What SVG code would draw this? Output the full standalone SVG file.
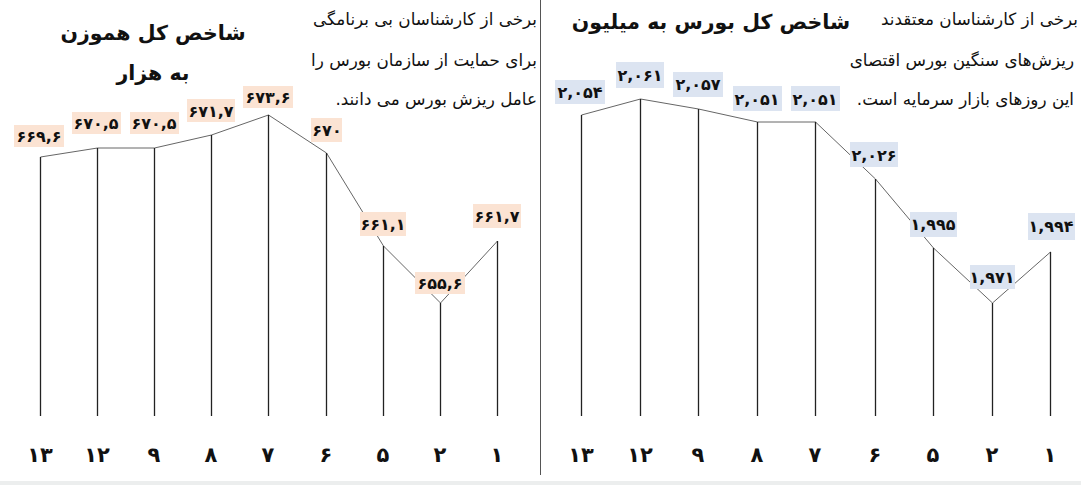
<svg xmlns="http://www.w3.org/2000/svg" width="1081" height="485" viewBox="0 0 1081 485">
<style>
.bar{stroke:#222;stroke-width:1.3;fill:none}
.trend{stroke:#666;stroke-width:1;fill:none}
.lbl{font-family:"DejaVu Sans",sans-serif;font-weight:bold;font-size:16px;fill:#111;text-anchor:middle}
.ax{font-family:"DejaVu Sans",sans-serif;font-weight:bold;font-size:21px;fill:#111;text-anchor:middle}
.title{font-family:"DejaVu Sans",sans-serif;font-weight:bold;font-size:20.5px;fill:#111;text-anchor:middle}
.para{font-family:"DejaVu Sans",sans-serif;font-size:16.8px;fill:#111}
.bo{fill:#fbe3d3}
.bb{fill:#dce4f1}
</style>
<rect width="1081" height="485" fill="#fff"/>
<rect x="0" y="481" width="1081" height="4" fill="#eceeee"/>
<line x1="540.5" y1="0" x2="540.5" y2="475" stroke="#555" stroke-width="1"/>

<g id="left-chart">
<g id="left-connectors">
<polyline class="trend" points="40.5,157 97.5,148 154.5,148 211.5,135 268.5,115 326.5,153 383.5,246 440.5,303 497.5,241"/>
</g>
<g id="left-bars">
<line class="bar" x1="40.5" y1="157" x2="40.5" y2="416"/>
<line class="bar" x1="97.5" y1="148" x2="97.5" y2="416"/>
<line class="bar" x1="154.5" y1="148" x2="154.5" y2="416"/>
<line class="bar" x1="211.5" y1="135" x2="211.5" y2="416"/>
<line class="bar" x1="268.5" y1="115" x2="268.5" y2="416"/>
<line class="bar" x1="326.5" y1="153" x2="326.5" y2="416"/>
<line class="bar" x1="383.5" y1="246" x2="383.5" y2="416"/>
<line class="bar" x1="440.5" y1="303" x2="440.5" y2="416"/>
<line class="bar" x1="497.5" y1="241" x2="497.5" y2="416"/>
</g>
<g id="L1"><rect class="bo" x="14" y="125" width="50" height="22"/><text class="lbl" x="39" y="142">۶۶۹,۶</text></g>
<g id="L2"><rect class="bo" x="72" y="112" width="49" height="22"/><text class="lbl" x="96" y="129">۶۷۰,۵</text></g>
<g id="L3"><rect class="bo" x="130" y="112" width="49" height="22"/><text class="lbl" x="154" y="129">۶۷۰,۵</text></g>
<g id="L4"><rect class="bo" x="187" y="99" width="48" height="23"/><text class="lbl" x="211" y="117">۶۷۱,۷</text></g>
<g id="L5"><rect class="bo" x="243" y="86" width="50" height="22"/><text class="lbl" x="268" y="103">۶۷۳,۶</text></g>
<g id="L6"><rect class="bo" x="311" y="118" width="31" height="24"/><text class="lbl" x="327" y="136">۶۷۰</text></g>
<g id="L7"><rect class="bo" x="360" y="212" width="46" height="24"/><text class="lbl" x="383" y="230">۶۶۱,۱</text></g>
<g id="L8"><rect class="bo" x="415" y="272" width="50" height="22"/><text class="lbl" x="440" y="289">۶۵۵,۶</text></g>
<g id="L9"><rect class="bo" x="473" y="204" width="48" height="24"/><text class="lbl" x="497" y="222">۶۶۱,۷</text></g>
<g id="left-axis">
<text class="ax" x="40" y="462">۱۳</text>
<text class="ax" x="97" y="462">۱۲</text>
<text class="ax" x="154" y="462">۹</text>
<text class="ax" x="211" y="462">۸</text>
<text class="ax" x="268" y="462">۷</text>
<text class="ax" x="326" y="462">۶</text>
<text class="ax" x="383" y="462">۵</text>
<text class="ax" x="440" y="462">۲</text>
<text class="ax" x="497" y="462">۱</text>
</g>
<g id="left-title">
<text class="title" x="153" y="40">شاخص کل هموزن</text>
<text class="title" x="153" y="80">به هزار</text>
</g>
<g id="left-note">
<text class="para" x="537" y="25" direction="rtl" text-anchor="start">برخی از کارشناسان بی برنامگی</text>
<text class="para" x="537" y="66" direction="rtl" text-anchor="start">برای حمایت از سازمان بورس را</text>
<text class="para" x="537" y="105" direction="rtl" text-anchor="start">عامل ریزش بورس می دانند.</text>
</g>
</g>

<g id="right-chart">
<g id="right-connectors">
<polyline class="trend" points="581.5,115 640.5,99 698.5,109 757.5,122 815.5,122 875.5,179 933.5,248 992.5,303 1050.5,252"/>
</g>
<g id="right-bars">
<line class="bar" x1="581.5" y1="115" x2="581.5" y2="416"/>
<line class="bar" x1="640.5" y1="99" x2="640.5" y2="416"/>
<line class="bar" x1="698.5" y1="109" x2="698.5" y2="416"/>
<line class="bar" x1="757.5" y1="122" x2="757.5" y2="416"/>
<line class="bar" x1="815.5" y1="122" x2="815.5" y2="416"/>
<line class="bar" x1="875.5" y1="179" x2="875.5" y2="416"/>
<line class="bar" x1="933.5" y1="248" x2="933.5" y2="416"/>
<line class="bar" x1="992.5" y1="303" x2="992.5" y2="416"/>
<line class="bar" x1="1050.5" y1="252" x2="1050.5" y2="416"/>
</g>
<g id="R1"><rect class="bb" x="555" y="80" width="50" height="24"/><text class="lbl" x="580" y="98">۲,۰۵۴</text></g>
<g id="R2"><rect class="bb" x="616" y="62" width="48" height="26"/><text class="lbl" x="640" y="81">۲,۰۶۱</text></g>
<g id="R3"><rect class="bb" x="673" y="72" width="50" height="25"/><text class="lbl" x="698" y="90">۲,۰۵۷</text></g>
<g id="R4"><rect class="bb" x="733" y="86" width="49" height="25"/><text class="lbl" x="757" y="105">۲,۰۵۱</text></g>
<g id="R5"><rect class="bb" x="791" y="86" width="49" height="25"/><text class="lbl" x="815" y="105">۲,۰۵۱</text></g>
<g id="R6"><rect class="bb" x="850" y="142" width="48" height="25"/><text class="lbl" x="874" y="161">۲,۰۲۶</text></g>
<g id="R7"><rect class="bb" x="910" y="212" width="47" height="25"/><text class="lbl" x="933" y="230">۱,۹۹۵</text></g>
<g id="R8"><rect class="bb" x="970" y="265" width="45" height="24"/><text class="lbl" x="992" y="283">۱,۹۷۱</text></g>
<g id="R9"><rect class="bb" x="1028" y="213" width="47" height="27"/><text class="lbl" x="1051" y="232">۱,۹۹۴</text></g>
<g id="right-axis">
<text class="ax" x="581" y="462">۱۳</text>
<text class="ax" x="640" y="462">۱۲</text>
<text class="ax" x="698" y="462">۹</text>
<text class="ax" x="757" y="462">۸</text>
<text class="ax" x="815" y="462">۷</text>
<text class="ax" x="875" y="462">۶</text>
<text class="ax" x="933" y="462">۵</text>
<text class="ax" x="992" y="462">۲</text>
<text class="ax" x="1050" y="462">۱</text>
</g>
<g id="right-title">
<text class="title" x="711" y="29">شاخص کل بورس به میلیون</text>
</g>
<g id="right-note">
<text class="para" x="1078" y="25" direction="rtl" text-anchor="start">برخی از کارشناسان معتقدند</text>
<text class="para" x="1074" y="66" direction="rtl" text-anchor="start">ریزش‌های سنگین بورس اقتصای</text>
<text class="para" x="1074" y="105" direction="rtl" text-anchor="start">این روزهای بازار سرمایه است.</text>
</g>
</g>
</svg>
